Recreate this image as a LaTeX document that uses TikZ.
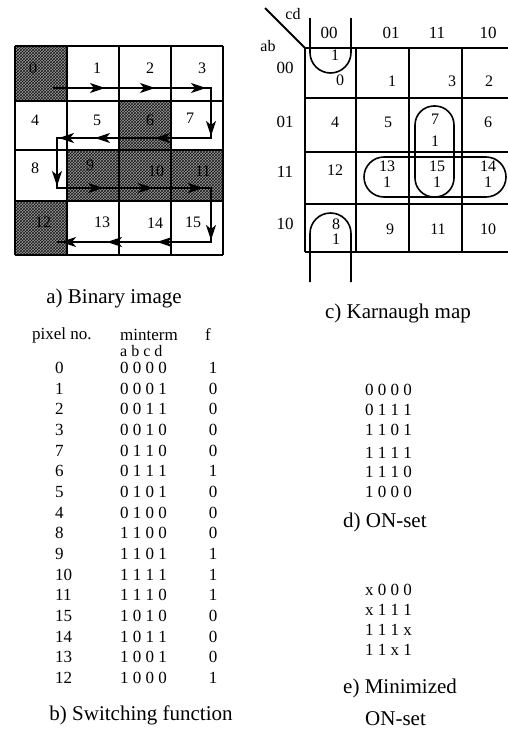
\documentclass[tikz,border=0pt]{standalone}
\usepackage{fontspec}
\setmainfont{Liberation Serif}
\usetikzlibrary{arrows.meta,patterns,decorations.markings}
\begin{document}
\begin{tikzpicture}[x=1pt,y=-1pt,
  tabtxt/.style={inner sep=0pt, font=\fontsize{17}{20}\selectfont},
  cellnum/.style={inner sep=0pt, font=\fontsize{16}{18}\selectfont},
  kmnum/.style={inner sep=0pt, font=\fontsize{16}{18}\selectfont},
  caption/.style={inner sep=0pt, font=\fontsize{21}{24}\selectfont},
  gridline/.style={line width=1.9pt},
  loopline/.style={line width=1.6pt},
  hatchfill/.style={fill=black!40, postaction={pattern=crosshatch, pattern color=black!90}},
  scanpath/.style={line width=1.9pt, postaction={decorate},
    decoration={markings,
      mark=at position 52pt with {\arrow{Stealth[length=15pt,width=10pt,inset=4pt]}},
      mark=at position 102pt with {\arrow{Stealth[length=15pt,width=10pt,inset=4pt]}},
      mark=at position 153pt with {\arrow{Stealth[length=15pt,width=10pt,inset=4pt]}},
      mark=at position 206pt with {\arrow{Stealth[length=15pt,width=10pt,inset=4pt]}},
      mark=at position 264pt with {\arrow{Stealth[length=15pt,width=10pt,inset=4pt]}},
      mark=at position 324pt with {\arrow{Stealth[length=15pt,width=10pt,inset=4pt]}},
      mark=at position 360pt with {\arrow{Stealth[length=15pt,width=10pt,inset=4pt]}},
      mark=at position 410pt with {\arrow{Stealth[length=15pt,width=10pt,inset=4pt]}},
      mark=at position 458pt with {\arrow{Stealth[length=15pt,width=10pt,inset=4pt]}},
      mark=at position 508pt with {\arrow{Stealth[length=15pt,width=10pt,inset=4pt]}},
      mark=at position 558pt with {\arrow{Stealth[length=15pt,width=10pt,inset=4pt]}},
      mark=at position 618pt with {\arrow{Stealth[length=15pt,width=10pt,inset=4pt]}},
      mark=at position 674pt with {\arrow{Stealth[length=15pt,width=10pt,inset=4pt]}},
      mark=at position 724pt with {\arrow{Stealth[length=15pt,width=10pt,inset=4pt]}},
      mark=at position 770pt with {\arrow{Stealth[length=15pt,width=10pt,inset=4pt]}}}}
]
\useasboundingbox (0,0) rectangle (508,731);
\fill[white] (0,0) rectangle (508,731);

% ---------- a) binary image ----------
\path[hatchfill] (15,46) rectangle (67,101);
\path[hatchfill] (119,101) rectangle (171,150);
\path[hatchfill] (67,150) rectangle (223,201);
\path[hatchfill] (15,201) rectangle (67,255);
\foreach \x in {15,67,119,171,223} \draw[gridline] (\x,46) -- (\x,255);
\foreach \y in {46,101,150,201,255} \draw[gridline] (15,\y) -- (223,\y);

\foreach \n/\x/\y in {0/33/68, 1/97/68, 2/150/68, 3/202/68,
  4/35/120, 5/97/120, 6/150/120, 7/190/118,
  8/35/168, 9/90/165, 10/156/171, 11/203/171,
  12/43/222, 13/102/222, 14/155/223, 15/193/222}
  \node[cellnum] (bi\n) at (\x,\y) {\n};

\coordinate (p0) at (53,88);
\coordinate (p1) at (211,88);
\coordinate (p2) at (211,138);
\coordinate (p3) at (57,138);
\coordinate (p4) at (57,188);
\coordinate (p5) at (211,188);
\coordinate (p6) at (211,242);
\coordinate (p7) at (57,242);
\draw[scanpath] (p0) -- (p1) -- (p2) -- (p3) -- (p4) -- (p5) -- (p6) -- (p7);

\node[caption] (capa) at (114,298) {a) Binary image};

% ---------- b) table ----------
\node[tabtxt, anchor=west] (hpix) at (32,335) {pixel no.};
\node[tabtxt, anchor=west] (hmin) at (120,335) {minterm};
\node[tabtxt] (hf) at (208,335) {f};
\node[tabtxt, anchor=west, font=\fontsize{16}{18}\selectfont] (habcd) at (120,351) {a b c d};
\foreach \p/\m/\f [count=\i from 0] in {0/0 0 0 0/1, 1/0 0 0 1/0, 2/0 0 1 1/0, 3/0 0 1 0/0,
  7/0 1 1 0/0, 6/0 1 1 1/1, 5/0 1 0 1/0, 4/0 1 0 0/0, 8/1 1 0 0/0, 9/1 1 0 1/1,
  10/1 1 1 1/1, 11/1 1 1 0/1, 15/1 0 1 0/0, 14/1 0 1 1/0, 13/1 0 0 1/0, 12/1 0 0 0/1}
{
  \node[tabtxt, anchor=west] (tp\i) at (55,368+20.67*\i) {\p};
  \node[tabtxt, anchor=west] (tm\i) at (120,368+20.67*\i) {\m};
  \node[tabtxt] (tf\i) at (213,368+20.67*\i) {\f};
}
\node[caption] (capb) at (141,715) {b) Switching function};

% ---------- c) Karnaugh map ----------
\foreach \x in {305,356,409,462} \draw[gridline] (\x,48) -- (\x,252);
\foreach \y in {48,98,152,204,252} \draw[gridline] (305,\y) -- (508,\y);
\coordinate (dg0) at (265,8);
\coordinate (dg1) at (305,48);
\draw[gridline] (dg0) -- (dg1);
\node[kmnum] (kcd) at (293,14) {cd};
\node[kmnum] (kab) at (268,46) {ab};
\foreach \t/\x [count=\i] in {00/329, 01/391, 11/437, 10/488}
  \node[tabtxt] (kc\i) at (\x,33) {\t};
\foreach \t/\y [count=\i] in {00/68, 01/122, 11/172, 10/224}
  \node[tabtxt] (kr\i) at (285,\y) {\t};
\foreach \n/\x/\y in {0/340/80, 1/392/81, 3/452/81, 2/489/81,
  4/335/122, 5/388/122, 7/435/119, 6/488/122,
  12/335/170, 13/387/166, 15/437/166, 14/488/166,
  8/336/224, 9/390/229, 11/438/229, 10/488/229}
  \node[kmnum] (km\n) at (\x,\y) {\n};
\foreach \x/\y [count=\i] in {335/55, 435/141, 387/182, 437/182, 488/182, 336/239}
  \node[kmnum] (kone\i) at (\x,\y) {1};

\draw[loopline, rounded corners=20.5pt] (310,18) -- (310,73) -- (351,73) -- (351,18);
\draw[loopline, rounded corners=20.5pt] (310,282) -- (310,213) -- (351,213) -- (351,282);
\draw[loopline, rounded corners=19pt] (415,106) rectangle (454,197);
\draw[loopline, rounded corners=20pt] (364,157) rectangle (506,197);

\node[caption] (capc) at (398,313) {c) Karnaugh map};

% ---------- d) ON-set ----------
\foreach \m/\y [count=\i] in {0 0 0 0/390, 0 1 1 1/410, 1 1 0 1/430, 1 1 1 1/453, 1 1 1 0/472, 1 0 0 0/492}
  \node[tabtxt, anchor=west] (on\i) at (365,\y) {\m};
\node[caption, anchor=west] (capd) at (343,522) {d) ON-set};

% ---------- e) minimized ON-set ----------
\foreach \m/\y [count=\i] in {x 0 0 0/590, x 1 1 1/610, 1 1 1 x/630, 1 1 x 1/650}
  \node[tabtxt, anchor=west] (mn\i) at (365,\y) {\m};
\node[caption, anchor=west] (cape1) at (343,688) {e) Minimized};
\node[caption, anchor=west] (cape2) at (365,719) {ON-set};
\end{tikzpicture}
\end{document}
